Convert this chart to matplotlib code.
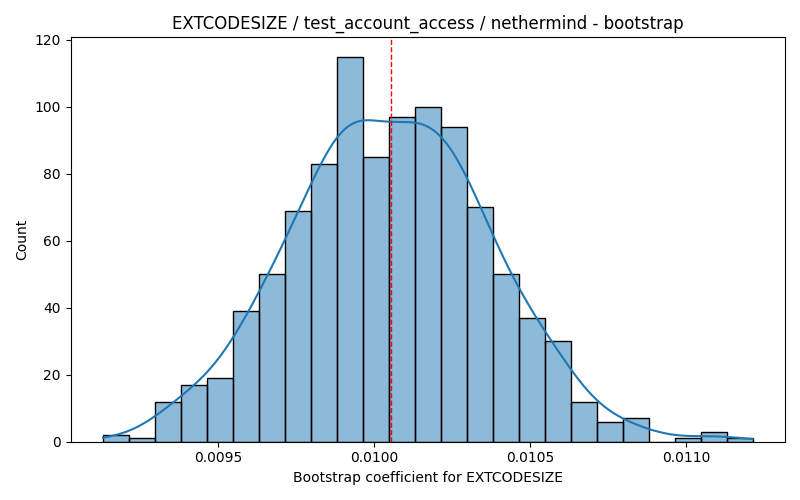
import math

import matplotlib
matplotlib.use("Agg")
import matplotlib.pyplot as plt
import numpy as np

# bootstrap histogram (25 bins, 1000 resamples)
bin_lo = 0.0091304
bin_hi = 0.0112125
counts = [2, 1, 12, 17, 19, 39, 50, 69, 83, 115, 85, 97, 100,
          94, 70, 50, 37, 30, 12, 6, 7, 0, 1, 3, 1]
point_estimate = 0.010054

title = "EXTCODESIZE / test_account_access / nethermind - bootstrap"
xlabel = "Bootstrap coefficient for EXTCODESIZE"

edges = np.linspace(bin_lo, bin_hi, len(counts) + 1)
centers = 0.5 * (edges[:-1] + edges[1:])
weights = np.asarray(counts, dtype=float)
n = weights.sum()
width = edges[1] - edges[0]

fig, ax = plt.subplots(figsize=(8, 5), dpi=100)
ax.hist(centers, bins=edges, weights=weights,
        facecolor=(0.1216, 0.4667, 0.7059, 0.5), edgecolor="black", linewidth=1)

# kde: scott bandwidth for n samples, each bin's samples spread evenly over the bin
bw_adjust = 1.15  # binned data is lumpier than the raw resamples
mean = np.sum(weights * centers) / n
std = np.sqrt(np.sum(weights * (centers - mean) ** 2) / (n - 1) + width ** 2 / 12)
bw = bw_adjust * std * n ** (-1 / 5)
erf = np.vectorize(math.erf)
grid = np.linspace(bin_lo, bin_hi, 300)
lo = (grid[:, None] - edges[None, 1:]) / (bw * np.sqrt(2))
hi = (grid[:, None] - edges[None, :-1]) / (bw * np.sqrt(2))
dens = np.sum(weights[None, :] * 0.5 * (erf(hi) - erf(lo)), axis=1) / (n * width)
ax.plot(grid, dens * n * width, color="#1f77b4", linewidth=1.5)

ax.axvline(point_estimate, color="red", linestyle="--", linewidth=1)

ax.set_title(title)
ax.set_xlabel(xlabel)
ax.set_ylabel("Count")
fig.tight_layout()
fig.savefig("out.png")
